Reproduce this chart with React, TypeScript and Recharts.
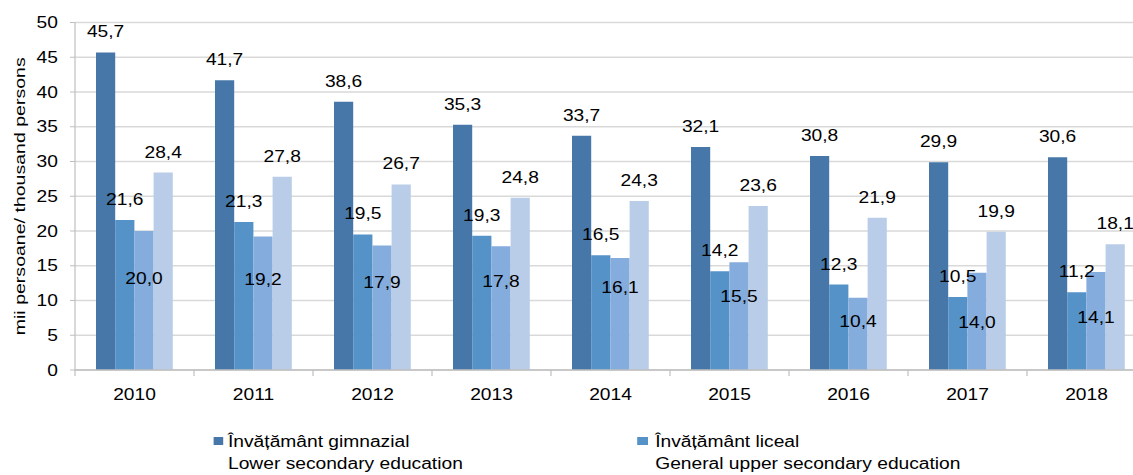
import { BarChart, Bar, XAxis, YAxis, CartesianGrid } from 'recharts'

const years = ['2010', '2011', '2012', '2013', '2014', '2015', '2016', '2017', '2018']
const gimnazial = [45.7, 41.7, 38.6, 35.3, 33.7, 32.1, 30.8, 29.9, 30.6]
const liceal = [21.6, 21.3, 19.5, 19.3, 16.5, 14.2, 12.3, 10.5, 11.2]
const profesional = [20.0, 19.2, 17.9, 17.8, 16.1, 15.5, 10.4, 14.0, 14.1]
const postliceal = [28.4, 27.8, 26.7, 24.8, 24.3, 23.6, 21.9, 19.9, 18.1]
const yTicks = [0, 5, 10, 15, 20, 25, 30, 35, 40, 45, 50]

const legendItems = [
  { ro: 'Învățământ gimnazial', en: 'Lower secondary education', color: '#4677A8' },
  { ro: 'Învățământ liceal', en: 'General upper secondary education', color: '#5592C8' },
]

// the original picture is stretched horizontally, so the chart is drawn narrow and scaled
const STRETCH = 1.2
const CW = 960
const CH = 475
const PLOT_LEFT = 62.5
const PLOT_RIGHT = 955
const BAND = (PLOT_RIGHT - PLOT_LEFT) / years.length
const FONT = "'Liberation Sans', Arial, sans-serif"

// how far below the bar top the third series' labels sit (manual placement in the source)
const insideDrop = [47, 43, 37, 35, 29, 34, 24, 50, 45]

const data = years.map((y, i) => ({
  year: y,
  gimnazial: gimnazial[i],
  liceal: liceal[i],
  profesional: profesional[i],
  postliceal: postliceal[i],
}))

const fmt = (v: number) => v.toFixed(1).replace('.', ',')

function box(p: any) {
  const vb = p.viewBox ?? p
  return { x: p.x ?? vb.x, y: p.y ?? vb.y, width: p.width ?? vb.width }
}

const topLabel = (p: any) => {
  const { x, y, width } = box(p)
  return (
    <text x={x + width / 2} y={y - 15} textAnchor="middle" fontSize={16} fontFamily={FONT} fill="#000">
      {fmt(Number(p.value))}
    </text>
  )
}

const insideLabel = (p: any) => {
  const { x, y, width } = box(p)
  return (
    <text x={x + width / 2} y={y + insideDrop[p.index] + 5.75} textAnchor="middle" fontSize={16} fontFamily={FONT} fill="#000">
      {fmt(Number(p.value))}
    </text>
  )
}

const YearTick = (p: any) => {
  const { x, y, payload, index } = p
  return (
    <g>
      <line x1={x - BAND / 2} x2={x - BAND / 2} y1={y} y2={y + 6} stroke="#BFBFBF" />
      {index === years.length - 1 && (
        <line x1={x + BAND / 2} x2={x + BAND / 2} y1={y} y2={y + 6} stroke="#BFBFBF" />
      )}
      <text x={x} y={y + 30} textAnchor="middle" fontSize={16} fontFamily={FONT} fill="#000">
        {payload.value}
      </text>
    </g>
  )
}

const YTitle = (p: any) => {
  const vb = p.viewBox
  const cx = 17
  const cy = vb.y + vb.height / 2
  return (
    <text x={cx} y={cy} transform={`rotate(-90 ${cx} ${cy})`} textAnchor="middle" dominantBaseline="central"
      fontSize={12.5} fontFamily={FONT} fill="#000" textLength={278} lengthAdjust="spacingAndGlyphs">
      mii persoane/ thousand persons
    </text>
  )
}

export default function App() {
  return (
    <div style={{ position: 'absolute', left: 0, top: 0, width: 1133, height: CH, overflow: 'hidden', background: '#fff' }}>
      <div style={{ position: 'relative', width: CW, height: CH, transform: `scaleX(${STRETCH})`, transformOrigin: '0 0' }}>
        <BarChart
          width={CW}
          height={CH}
          data={data}
          margin={{ top: 22.5, right: CW - PLOT_RIGHT, left: 0, bottom: 75 }}
          barCategoryGap={17.5}
          barGap={0}
        >
          <CartesianGrid vertical={false} stroke="#D9D9D9" strokeWidth={1.5} />
          <XAxis
            dataKey="year"
            height={30}
            axisLine={{ stroke: '#BFBFBF', strokeWidth: 1.5 }}
            tickLine={false}
            tickSize={0}
            tickMargin={0}
            interval={0}
            tick={<YearTick />}
          />
          <YAxis
            width={PLOT_LEFT}
            domain={[0, 50]}
            ticks={yTicks}
            interval={0}
            axisLine={{ stroke: '#BFBFBF' }}
            tickLine={{ stroke: '#BFBFBF' }}
            tickSize={4.2}
            tickMargin={10}
            tick={{ fontSize: 16, fontFamily: FONT, fill: '#000' }}
            label={<YTitle />}
          />
          <Bar dataKey="gimnazial" fill="#4677A8" isAnimationActive={false} label={topLabel} />
          <Bar dataKey="liceal" fill="#5592C8" isAnimationActive={false} label={topLabel} />
          <Bar dataKey="profesional" fill="#84ACDC" isAnimationActive={false} label={insideLabel} />
          <Bar dataKey="postliceal" fill="#B9CDE8" isAnimationActive={false} label={topLabel} />
        </BarChart>
        {legendItems.map((it, i) => (
          <div key={it.ro} style={{ position: 'absolute', left: i === 0 ? 177.5 : 531, top: 431, fontFamily: FONT, fontSize: 16, lineHeight: '22px', color: '#000' }}>
            <span style={{ position: 'absolute', left: 0, top: 6, width: 8.5, height: 8.3, background: it.color }} />
            <div style={{ marginLeft: i === 0 ? 12.5 : 15, whiteSpace: 'nowrap' }}>
              {it.ro}
              <br />
              {it.en}
            </div>
          </div>
        ))}
      </div>
    </div>
  )
}
